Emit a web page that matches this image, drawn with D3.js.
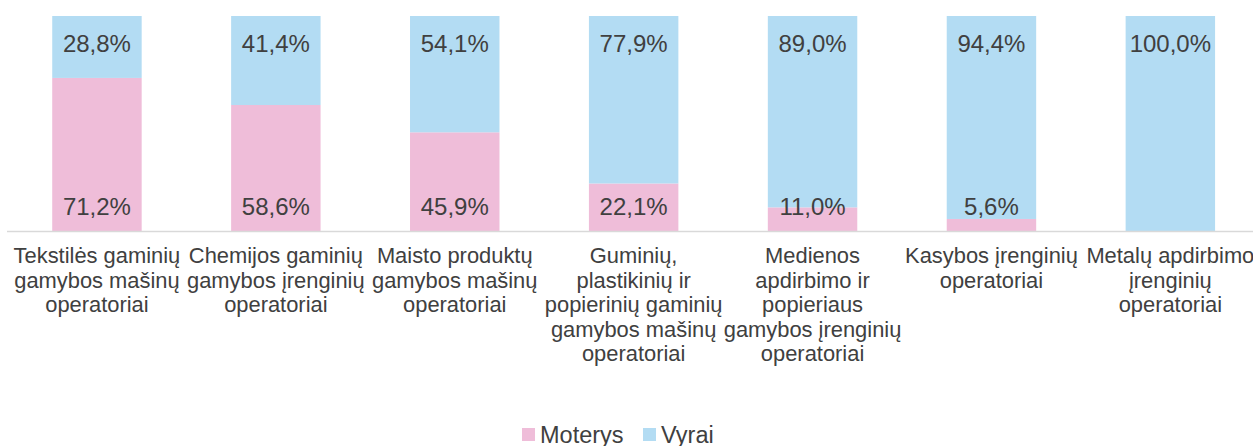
<!DOCTYPE html>
<html><head><meta charset="utf-8">
<script src="https://cdn.jsdelivr.net/npm/d3@7"></script>
<style>body{margin:0;background:#fff}svg{display:block}text{font-family:"Liberation Sans",Arial,sans-serif;fill:#404040}</style>
</head><body><svg id="c" width="1253" height="446"></svg>
<script>
const categories = [
  ["Tekstilės gaminių","gamybos mašinų","operatoriai"],
  ["Chemijos gaminių","gamybos įrenginių","operatoriai"],
  ["Maisto produktų","gamybos mašinų","operatoriai"],
  ["Guminių,","plastikinių ir","popierinių gaminių","gamybos mašinų","operatoriai"],
  ["Medienos","apdirbimo ir","popieriaus","gamybos įrenginių","operatoriai"],
  ["Kasybos įrenginių","operatoriai"],
  ["Metalų apdirbimo","įrenginių","operatoriai"]
];
const moterys = [71.2, 58.6, 45.9, 22.1, 11.0, 5.6, 0];
const vyrai = [28.8, 41.4, 54.1, 77.9, 89.0, 94.4, 100.0];
const seriesNames = ["Moterys", "Vyrai"];
const colors = ["#EFBDD9", "#B3DCF3"];

const svg = d3.select("#c");
const idx = d3.range(categories.length);
const x = d3.scaleBand().domain(idx).range([7.5, 7.5 + 7 * 178.9]).paddingInner(0.5).paddingOuter(0.25);
const y = d3.scaleLinear().domain([0, 100]).range([231, 16]);
const fmt = v => v.toFixed(1).replace(".", ",") + "%";

const g = svg.append("g");
g.selectAll("rect.m").data(idx).join("rect")
  .attr("x", i => x(i)).attr("width", x.bandwidth())
  .attr("y", i => y(moterys[i])).attr("height", i => y(0) - y(moterys[i]))
  .attr("fill", colors[0]);
g.selectAll("rect.v").data(idx).join("rect")
  .attr("x", i => x(i)).attr("width", x.bandwidth())
  .attr("y", i => y(moterys[i] + vyrai[i])).attr("height", i => y(moterys[i]) - y(moterys[i] + vyrai[i]))
  .attr("fill", colors[1]);

svg.append("line").attr("x1", 7).attr("x2", 1253).attr("y1", y(0) + 0.5).attr("y2", y(0) + 0.5)
  .attr("stroke", "#D9D9D9").attr("stroke-width", 1.5);

g.selectAll("text.mv").data(idx.filter(i => moterys[i] > 0)).join("text")
  .attr("x", i => x(i) + x.bandwidth() / 2).attr("y", y(0) - 16)
  .attr("text-anchor", "middle").attr("font-size", 24).text(i => fmt(moterys[i]));
g.selectAll("text.vv").data(idx).join("text")
  .attr("x", i => x(i) + x.bandwidth() / 2).attr("y", i => y(moterys[i] + vyrai[i]) + 36)
  .attr("text-anchor", "middle").attr("font-size", 24).text(i => fmt(vyrai[i]));

const cl = svg.append("g");
idx.forEach(i => {
  const t = cl.append("text").attr("text-anchor", "middle").attr("font-size", 21.9)
    .attr("x", x(i) + x.bandwidth() / 2).attr("y", 263);
  categories[i].forEach((line, k) => {
    t.append("tspan").attr("x", x(i) + x.bandwidth() / 2).attr("y", 263 + k * 24.5).text(line);
  });
});

const leg = svg.append("g");
const legX = [522, 643];
seriesNames.forEach((n, k) => {
  leg.append("rect").attr("x", legX[k]).attr("y", 428).attr("width", 13).attr("height", 13).attr("fill", colors[k]);
  leg.append("text").attr("x", legX[k] + 18).attr("y", 442.5).attr("font-size", 23.5).text(n);
});
</script></body></html>
